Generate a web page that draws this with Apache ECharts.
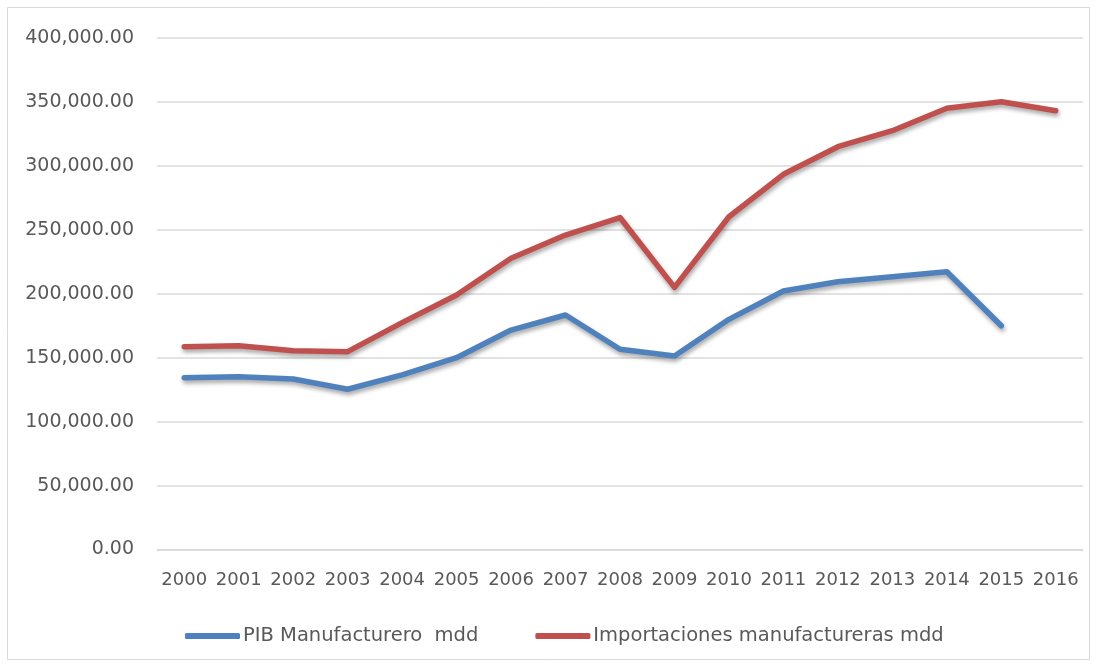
<!DOCTYPE html>
<html>
<head>
<meta charset="utf-8">
<script src="https://cdn.jsdelivr.net/npm/echarts@6/dist/echarts.min.js"></script>
<style>html,body{margin:0;padding:0;background:#fff;}#c{width:1097px;height:666px;}</style>
</head>
<body>
<div id="c"></div>
<script>
const years = ['2000','2001','2002','2003','2004','2005','2006','2007','2008','2009','2010','2011','2012','2013','2014','2015','2016'];
const pibManufacturero = [134300,135100,133300,125300,136500,150000,171600,183400,156600,151300,180000,202100,209400,213300,217200,175000,null];
const importacionesManufactureras = [158600,159400,155500,154700,177400,199000,227700,245900,259600,205000,260200,293400,315000,327500,345000,350200,343100];
const seriesNames = ['PIB Manufacturero  mdd','Importaciones manufactureras mdd'];

const chart = echarts.init(document.getElementById('c'), null, {renderer:'canvas'});
const font = 'DejaVu Sans';
const shadow = {shadowBlur:4, shadowColor:'rgba(0,0,0,0.35)', shadowOffsetX:1, shadowOffsetY:3};
chart.setOption({
  animation:false,
  backgroundColor:'#fff',
  graphic:[{type:'rect', shape:{x:7.5,y:7.5,width:1082,height:652}, style:{fill:'none', stroke:'#d9d9d9', lineWidth:1}, silent:true}],
  grid:{left:157, right:14, top:38, bottom:116.5},
  legend:{
    left:180, top:621, icon:'roundRect', itemWidth:55, itemHeight:6, itemGap:57,
    textStyle:{fontFamily:font, fontSize:19.5, color:'#595959', padding:[0,0,0,-2]},
    data:seriesNames
  },
  xAxis:{
    type:'category', data:years, boundaryGap:true,
    axisLine:{lineStyle:{color:'#d9d9d9', width:1.5}},
    axisTick:{show:false},
    axisLabel:{fontFamily:font, fontSize:18, color:'#595959', margin:22, interval:0}
  },
  yAxis:{
    type:'value', min:0, max:400000, interval:50000,
    axisLine:{show:false}, axisTick:{show:false},
    splitLine:{lineStyle:{color:'#d9d9d9', width:1.5}},
    axisLabel:{fontFamily:font, fontSize:19, color:'#595959', margin:23,
      formatter:v=>v.toLocaleString('en-US',{minimumFractionDigits:2, maximumFractionDigits:2})}
  },
  series:[
    {name:seriesNames[0], type:'line', data:pibManufacturero, symbol:'none', color:'#4F81BD',
     lineStyle:Object.assign({width:5.5, color:'#4F81BD', cap:'round', join:'round'}, shadow)},
    {name:seriesNames[1], type:'line', data:importacionesManufactureras, symbol:'none', color:'#C0504D',
     lineStyle:Object.assign({width:5.5, color:'#C0504D', cap:'round', join:'round'}, shadow)}
  ]
});
</script>
</body>
</html>
